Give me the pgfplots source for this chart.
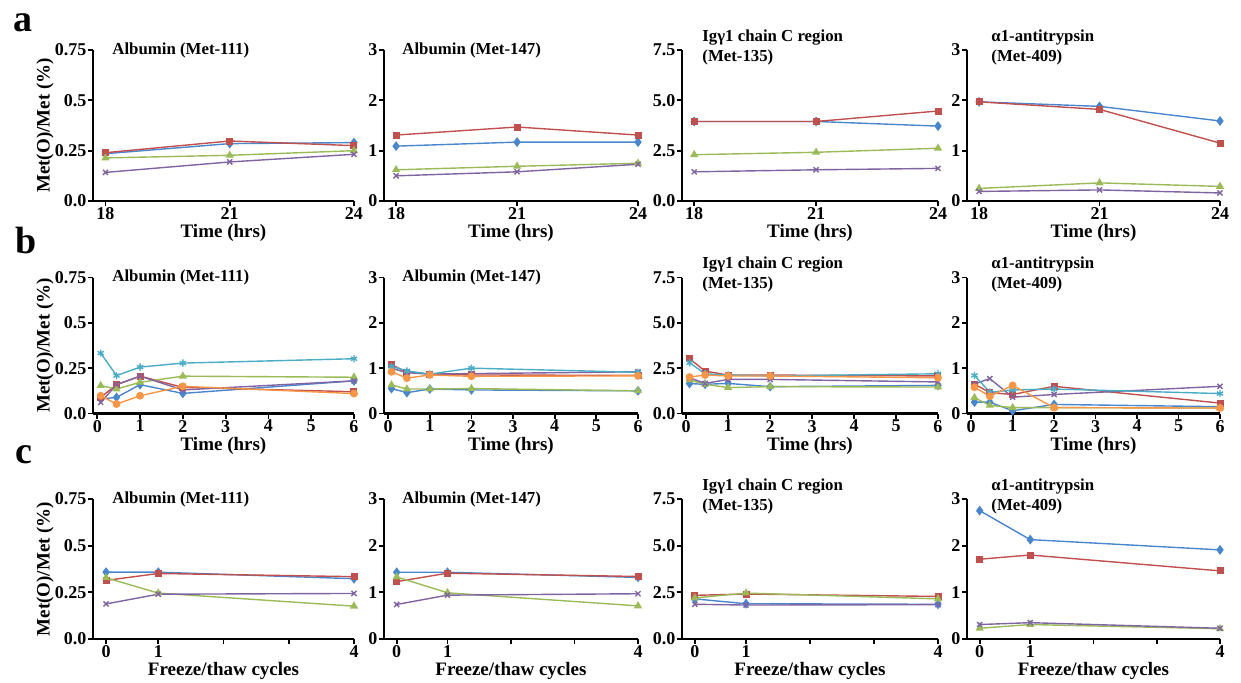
\documentclass[border=0pt]{standalone}
\usepackage{fontspec}
\setmainfont{Liberation Serif}
\usepackage{pgfplots}
\pgfplotsset{compat=1.18}
\definecolor{cblue}{RGB}{74,134,204}
\definecolor{cred}{RGB}{192,80,77}
\definecolor{cgreen}{RGB}{155,187,89}
\definecolor{cpurple}{RGB}{128,100,162}
\definecolor{ccyan}{RGB}{75,172,198}
\definecolor{corange}{RGB}{247,150,70}

\pgfplotsset{
  panel/.style={scale only axis, axis lines*=left, clip=false,
    axis line style={line width=1.1pt, black},
    tick align=outside, major tick length=2.5pt,
    tick style={black, line width=0.9pt},
    tick label style={font=\fontsize{9}{9}\selectfont\bfseries, inner sep=0.6pt},
    label style={font=\fontsize{9.5}{10}\selectfont\bfseries},
    /pgf/number format/assume math mode=true,
    xlabel style={at={(axis description cs:0.5,0)}, anchor=center, yshift=-16pt},
    ymin=0},
  c1/.style={width=130.5pt, ymax=0.75, ytick={0,0.25,0.5,0.75}, yticklabels={0.0,0.25,0.5,0.75},
    ylabel={Met(O)/Met (\%)}, ylabel style={at={(axis description cs:-0.184,0.5)}, anchor=center}},
  c2/.style={width=127pt, ymax=3, ytick={0,1,2,3}},
  c3/.style={width=128pt, ymax=7.5, ytick={0,2.5,5,7.5}, yticklabels={0.0,2.5,5.0,7.5}},
  c4/.style={width=126.5pt, ymax=3, ytick={0,1,2,3}},
  ra/.style={height=75.5pt, xmin=17.7, xmax=24, xtick={18,21,24}, xlabel={Time (hrs)}},
  rb/.style={height=68pt, xmin=-0.1, xmax=6, xtick={0,1,2,3,4,5,6}, xlabel={Time (hrs)}},
  rc/.style={height=70pt, xmin=0, xmax=4, xtick={0.2,1,2,3,4}, xticklabels={0,1,,,4}, xlabel={Freeze/thaw cycles}},
  sb/.style={cblue, line width=0.7pt, mark=diamond*, mark size=1.9pt, mark options={solid}},
  sr/.style={cred, line width=0.7pt, mark=square*, mark size=1.4pt, mark options={solid}},
  sg/.style={cgreen, line width=0.7pt, mark=triangle*, mark size=1.7pt, mark options={solid}},
  sp/.style={cpurple, line width=0.7pt, mark=x, mark size=1.8pt, mark options={solid}},
  sc/.style={ccyan, line width=0.7pt, mark=asterisk, mark size=1.8pt, mark options={solid}},
  so/.style={corange, line width=0.7pt, mark=*, mark size=1.6pt, mark options={solid}},
}
\tikzset{ttl/.style={anchor=west, inner sep=0pt, align=left, font=\fontsize{8.4}{10}\selectfont\bfseries},
  letter/.style={anchor=base west, inner sep=0pt, font=\fontsize{19}{19}\selectfont\bfseries}}

\begin{document}
\begin{tikzpicture}
\useasboundingbox (0,0) rectangle (620.5pt,341pt);
\node[letter] at (6.5pt,325pt) {a};
\node[letter] at (7.5pt,214.5pt) {b};
\node[letter] at (7.5pt,109.5pt) {c};

% ---------------- row a ----------------
\begin{axis}[panel, ra, c1, at={(46.5pt,240.5pt)}, anchor=south west]
\addplot[sb] coordinates {(18,0.235)(21,0.285)(24,0.29)};
\addplot[sr] coordinates {(18,0.24)(21,0.298)(24,0.275)};
\addplot[sg] coordinates {(18,0.214)(21,0.227)(24,0.25)};
\addplot[sp] coordinates {(18,0.142)(21,0.194)(24,0.232)};
\node[ttl, xshift=9.5pt] at (rel axis cs:0,1) {Albumin (Met-111)};
\end{axis}
\begin{axis}[panel, ra, c2, at={(192pt,240.5pt)}, anchor=south west]
\addplot[sb] coordinates {(18,1.09)(21,1.17)(24,1.17)};
\addplot[sr] coordinates {(18,1.31)(21,1.47)(24,1.31)};
\addplot[sg] coordinates {(18,0.62)(21,0.69)(24,0.75)};
\addplot[sp] coordinates {(18,0.5)(21,0.58)(24,0.73)};
\node[ttl, xshift=9pt] at (rel axis cs:0,1) {Albumin (Met-147)};
\end{axis}
\begin{axis}[panel, ra, c3, at={(341pt,240.5pt)}, anchor=south west]
\addplot[sb] coordinates {(18,3.95)(21,3.95)(24,3.72)};
\addplot[sr] coordinates {(18,3.95)(21,3.95)(24,4.47)};
\addplot[sg] coordinates {(18,2.3)(21,2.42)(24,2.62)};
\addplot[sp] coordinates {(18,1.45)(21,1.55)(24,1.62)};
\node[ttl, xshift=10pt, yshift=1.5pt] at (rel axis cs:0,1) {Igγ1 chain C region\\(Met-135)};
\end{axis}
\begin{axis}[panel, ra, c4, at={(483.5pt,240.5pt)}, anchor=south west]
\addplot[sb] coordinates {(18,1.97)(21,1.88)(24,1.59)};
\addplot[sr] coordinates {(18,1.97)(21,1.82)(24,1.15)};
\addplot[sg] coordinates {(18,0.25)(21,0.36)(24,0.29)};
\addplot[sp] coordinates {(18,0.19)(21,0.22)(24,0.16)};
\node[ttl, xshift=12pt, yshift=1.5pt] at (rel axis cs:0,1) {α1-antitrypsin\\(Met-409)};
\end{axis}

% ---------------- row b ----------------
\begin{axis}[panel, rb, c1, at={(46.5pt,134.25pt)}, anchor=south west]
\addplot[sb] coordinates {(0.08,0.08)(0.45,0.089)(1,0.159)(2,0.111)(6,0.18)};
\addplot[sr] coordinates {(0.08,0.089)(0.45,0.159)(1,0.206)(2,0.144)(6,0.12)};
\addplot[sg] coordinates {(0.08,0.154)(0.45,0.135)(1,0.172)(2,0.206)(6,0.2)};
\addplot[sp] coordinates {(0.08,0.061)(0.45,0.159)(1,0.206)(2,0.13)(6,0.18)};
\addplot[sc] coordinates {(0.08,0.333)(0.45,0.209)(1,0.256)(2,0.278)(6,0.302)};
\addplot[so] coordinates {(0.08,0.098)(0.45,0.052)(1,0.098)(2,0.15)(6,0.11)};
\node[ttl, xshift=9.5pt] at (rel axis cs:0,1) {Albumin (Met-111)};
\end{axis}
\begin{axis}[panel, rb, c2, at={(192pt,134.25pt)}, anchor=south west]
\addplot[sb] coordinates {(0.08,0.55)(0.45,0.46)(1,0.54)(2,0.52)(6,0.5)};
\addplot[sr] coordinates {(0.08,1.08)(0.45,0.91)(1,0.87)(2,0.85)(6,0.84)};
\addplot[sg] coordinates {(0.08,0.63)(0.45,0.54)(1,0.54)(2,0.55)(6,0.5)};
\addplot[sp] coordinates {(0.08,1.0)(0.45,0.9)(1,0.87)(2,0.88)(6,0.92)};
\addplot[sc] coordinates {(0.08,1.04)(0.45,0.94)(1,0.87)(2,1.0)(6,0.91)};
\addplot[so] coordinates {(0.08,0.92)(0.45,0.78)(1,0.85)(2,0.82)(6,0.83)};
\node[ttl, xshift=9pt] at (rel axis cs:0,1) {Albumin (Met-147)};
\end{axis}
\begin{axis}[panel, rb, c3, at={(341pt,134.25pt)}, anchor=south west]
\addplot[sb] coordinates {(0.08,1.65)(0.45,1.61)(1,1.66)(2,1.48)(6,1.55)};
\addplot[sr] coordinates {(0.08,3.02)(0.45,2.34)(1,2.12)(2,2.12)(6,2.07)};
\addplot[sg] coordinates {(0.08,1.85)(0.45,1.61)(1,1.43)(2,1.48)(6,1.46)};
\addplot[sp] coordinates {(0.08,1.97)(0.45,1.66)(1,1.88)(2,1.88)(6,1.74)};
\addplot[sc] coordinates {(0.08,2.8)(0.45,2.19)(1,2.12)(2,2.07)(6,2.19)};
\addplot[so] coordinates {(0.08,2.01)(0.45,2.12)(1,2.07)(2,2.07)(6,1.97)};
\node[ttl, xshift=10pt, yshift=1.5pt] at (rel axis cs:0,1) {Igγ1 chain C region\\(Met-135)};
\end{axis}
\begin{axis}[panel, rb, c4, at={(483.5pt,134.25pt)}, anchor=south west]
\addplot[sb] coordinates {(0.08,0.25)(0.45,0.25)(1,0.06)(2,0.2)(6,0.15)};
\addplot[sr] coordinates {(0.08,0.65)(0.45,0.46)(1,0.42)(2,0.6)(6,0.23)};
\addplot[sg] coordinates {(0.08,0.35)(0.45,0.18)(1,0.13)(2,0.13)(6,0.12)};
\addplot[sp] coordinates {(0.08,0.65)(0.45,0.77)(1,0.36)(2,0.42)(6,0.6)};
\addplot[sc] coordinates {(0.08,0.84)(0.45,0.47)(1,0.52)(2,0.54)(6,0.44)};
\addplot[so] coordinates {(0.08,0.58)(0.45,0.38)(1,0.62)(2,0.13)(6,0.12)};
\node[ttl, xshift=12pt, yshift=1.5pt] at (rel axis cs:0,1) {α1-antitrypsin\\(Met-409)};
\end{axis}

% ---------------- row c ----------------
\begin{axis}[panel, rc, c1, at={(46.5pt,21.5pt)}, anchor=south west]
\addplot[sb] coordinates {(0.2,0.358)(1,0.358)(4,0.323)};
\addplot[sr] coordinates {(0.2,0.314)(1,0.351)(4,0.334)};
\addplot[sg] coordinates {(0.2,0.328)(1,0.246)(4,0.176)};
\addplot[sp] coordinates {(0.2,0.188)(1,0.24)(4,0.244)};
\node[ttl, xshift=9.5pt] at (rel axis cs:0,1) {Albumin (Met-111)};
\end{axis}
\begin{axis}[panel, rc, c2, at={(192pt,21.5pt)}, anchor=south west]
\addplot[sb] coordinates {(0.2,1.43)(1,1.43)(4,1.32)};
\addplot[sr] coordinates {(0.2,1.23)(1,1.41)(4,1.34)};
\addplot[sg] coordinates {(0.2,1.33)(1,0.99)(4,0.71)};
\addplot[sp] coordinates {(0.2,0.74)(1,0.94)(4,0.97)};
\node[ttl, xshift=9pt] at (rel axis cs:0,1) {Albumin (Met-147)};
\end{axis}
\begin{axis}[panel, rc, c3, at={(341pt,21.5pt)}, anchor=south west]
\addplot[sb] coordinates {(0.2,2.15)(1,1.89)(4,1.86)};
\addplot[sr] coordinates {(0.2,2.34)(1,2.41)(4,2.28)};
\addplot[sg] coordinates {(0.2,2.2)(1,2.46)(4,2.15)};
\addplot[sp] coordinates {(0.2,1.86)(1,1.82)(4,1.84)};
\node[ttl, xshift=10pt, yshift=1.5pt] at (rel axis cs:0,1) {Igγ1 chain C region\\(Met-135)};
\end{axis}
\begin{axis}[panel, rc, c4, at={(483.5pt,21.5pt)}, anchor=south west]
\addplot[sb] coordinates {(0.2,2.75)(1,2.13)(4,1.91)};
\addplot[sr] coordinates {(0.2,1.71)(1,1.8)(4,1.46)};
\addplot[sg] coordinates {(0.2,0.23)(1,0.31)(4,0.22)};
\addplot[sp] coordinates {(0.2,0.31)(1,0.35)(4,0.23)};
\node[ttl, xshift=12pt, yshift=1.5pt] at (rel axis cs:0,1) {α1-antitrypsin\\(Met-409)};
\end{axis}
\end{tikzpicture}
\end{document}
